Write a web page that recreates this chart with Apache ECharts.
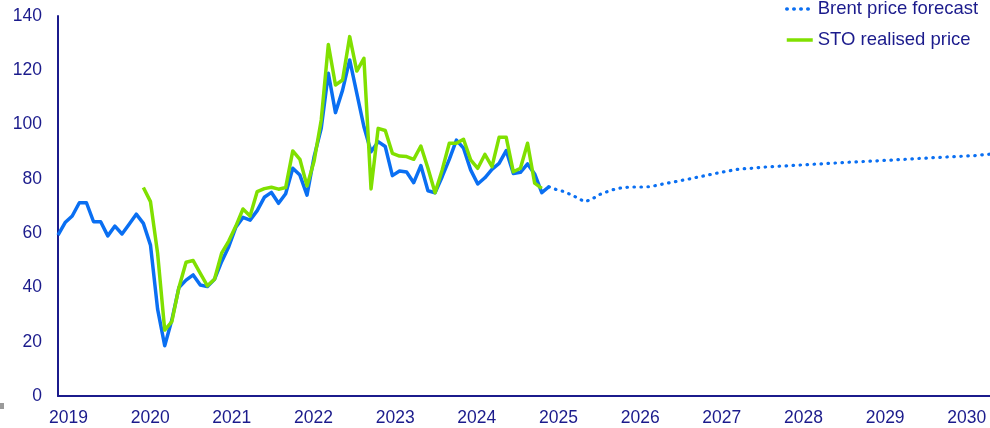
<!DOCTYPE html>
<html>
<head>
<meta charset="utf-8">
<script src="https://cdn.jsdelivr.net/npm/echarts@6/dist/echarts.min.js"></script>
<style>
html,body{margin:0;padding:0;background:#fff;}
#chart{width:990px;height:428px;}
</style>
</head>
<body>
<div id="chart"></div>
<script>
// Month index 0 = Jan 2019
const yearLabels = ['2019','2020','2021','2022','2023','2024','2025','2026','2027','2028','2029','2030'];
const yTicks = [0, 20, 40, 60, 80, 100, 120, 140];

// Brent price (actual), monthly from Jan 2019 to Oct 2024
const brentStart = 0;
const brentActual = [
  59.3, 63.9, 66.3, 71.2, 71.2, 64.2, 64.2, 59.0, 62.6, 59.7, 63.3, 67.0,
  63.6, 55.6, 32.0, 18.5, 28.0, 40.0, 42.7, 44.6, 40.9, 40.3, 43.0, 49.5,
  55.0, 62.2, 65.8, 64.8, 68.3, 73.2, 75.0, 71.0, 74.5, 83.9, 81.4, 74.0,
  88.2, 98.6, 118.9, 104.4, 112.7, 123.8, 111.5, 99.2, 90.0, 93.7, 91.9, 81.2,
  82.9, 82.5, 78.6, 84.9, 75.6, 74.9, 80.8, 87.2, 94.3, 91.3, 83.3, 78.1,
  80.4, 83.5, 85.7, 90.4, 82.0, 82.4, 85.5, 81.8, 74.9, 77.1
];

// STO realised price, monthly from Jan 2020 to Sep 2024
const stoStart = 12;
const stoRealised = [
  76.8, 71.6, 52.6, 24.3, 27.4, 40.0, 49.3, 49.9, 45.2, 40.6, 43.0, 52.6,
  57.1, 62.6, 68.9, 66.3, 75.3, 76.4, 76.9, 76.2, 76.8, 90.3, 87.2, 77.4,
  86.6, 101.7, 129.5, 114.6, 116.4, 132.4, 119.7, 124.4, 76.3, 98.6, 97.8, 89.4,
  88.4, 88.2, 87.2, 92.1, 83.9, 74.9, 83.3, 93.1, 93.1, 94.6, 87.0, 83.9,
  89.0, 84.5, 95.3, 95.3, 82.6, 83.9, 93.1, 78.4, 76.5
];

// Brent price forecast
const forecastMonths = [69,70,71,72,73,74,75,76,77,78,79,80,81,82,83,84,85,86,87,88,89,90,91,92,93,94,95,96,97,98,99,105,111,117,123,129,131];
const forecastValues = [77.1,76.1,75.4,74.3,73.0,71.6,72.4,74.1,75.1,76.0,76.6,76.9,77.0,77.0,77.1,77.5,78.1,78.6,79.1,79.6,80.1,80.7,81.2,81.8,82.3,82.8,83.3,83.7,83.8,84.0,84.3,85.2,86.1,86.9,87.8,88.6,89.1];

const navy = '#1b1b8c';
const blue = '#0a6ff2';
const green = '#80e000';
const font = 'Arial, "Liberation Sans", sans-serif';

const brentData = brentActual.map((v, i) => [brentStart + i, v]);
const stoData = stoRealised.map((v, i) => [stoStart + i, v]);
const fcData = forecastMonths.map((m, i) => [m, forecastValues[i]]);

const chart = echarts.init(document.getElementById('chart'), null, {renderer: 'canvas'});
chart.setOption({
  animation: false,
  backgroundColor: '#fff',
  textStyle: {fontFamily: font},
  grid: [
    {left: 58, right: 0, top: 16, bottom: 32, containLabel: false},
    {left: 68.5, right: 990 - 966.8, top: 16, bottom: 32, containLabel: false}
  ],
  legend: {
    data: ['Brent price forecast', 'STO realised price'],
    orient: 'vertical',
    left: 780,
    top: -5.5,
    itemWidth: 26,
    itemHeight: 14,
    itemGap: 12,
    itemStyle: {opacity: 0},
    lineStyle: {width: 3.5},
    textStyle: {color: navy, fontSize: 18.5, fontFamily: font}
  },
  xAxis: [
    {
      type: 'value', gridIndex: 0, min: 0, max: 131,
      axisLine: {show: true, onZero: false, lineStyle: {color: navy, width: 2}},
      axisTick: {show: false}, axisLabel: {show: false}, splitLine: {show: false}
    },
    {
      type: 'value', gridIndex: 1, min: 0, max: yearLabels.length - 1, interval: 1,
      axisLine: {show: false}, axisTick: {show: false}, splitLine: {show: false},
      axisLabel: {
        show: true, color: navy, fontSize: 17.5, fontFamily: font, margin: 13,
        showMinLabel: true, showMaxLabel: true,
        formatter: v => yearLabels[Math.round(v)] || ''
      }
    }
  ],
  yAxis: [
    {
      type: 'value', gridIndex: 0, min: yTicks[0], max: yTicks[yTicks.length - 1], interval: 20,
      axisLine: {show: true, lineStyle: {color: navy, width: 2}},
      axisTick: {show: false}, splitLine: {show: false},
      axisLabel: {color: navy, fontSize: 17.5, fontFamily: font, margin: 16}
    },
    {
      type: 'value', gridIndex: 1, min: 0, max: 140, show: false
    }
  ],
  series: [
    {
      name: 'Brent price', type: 'line', xAxisIndex: 0, yAxisIndex: 0,
      data: brentData, symbol: 'none', showSymbol: false,
      lineStyle: {color: blue, width: 3.5, join: 'round'}, itemStyle: {color: blue}, z: 2
    },
    {
      name: 'STO realised price', type: 'line', xAxisIndex: 0, yAxisIndex: 0,
      data: stoData, symbol: 'none', showSymbol: false,
      lineStyle: {color: green, width: 3.5, join: 'round'}, itemStyle: {color: green}, z: 3
    },
    {
      name: 'Brent price forecast', type: 'line', xAxisIndex: 0, yAxisIndex: 0,
      data: fcData, symbol: 'none', showSymbol: false,
      lineStyle: {color: blue, width: 3.2, type: [0.5, 6.5], cap: 'round'}, itemStyle: {color: blue}, z: 2
    }
  ],
  graphic: [
    {type: 'rect', left: 0, top: 403, shape: {width: 4, height: 6}, style: {fill: '#9a9a9a'}}
  ]
});
</script>
</body>
</html>
